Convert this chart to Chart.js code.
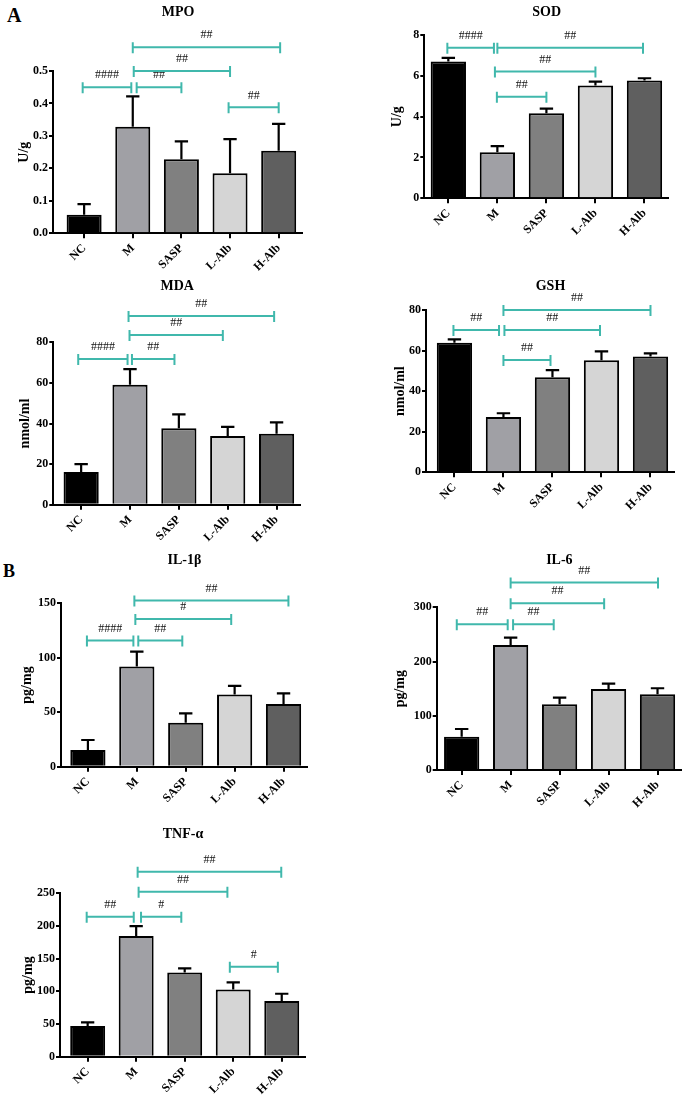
<!DOCTYPE html>
<html>
<head>
<meta charset="utf-8">
<script src="https://cdn.jsdelivr.net/npm/chart.js@4.4.1/dist/chart.umd.min.js"></script>
<style>
  html, body { margin: 0; padding: 0; background: #fff; }
  #page { position: relative; width: 684px; height: 1100px; overflow: hidden; }
  #page canvas { position: absolute; }
  .tag { position: absolute; font-family: "Liberation Serif", serif; font-weight: bold; color: #000; line-height: 1; }
</style>
</head>
<body>
<div id="page">
  <div class="tag" style="left:7px;top:5px;font-size:20px">A</div>
  <div class="tag" style="left:3px;top:562px;font-size:18px">B</div>
</div>
<script>
const SERIF = '"Liberation Serif", "Times New Roman", serif';
const groups = ['NC', 'M', 'SASP', 'L-Alb', 'H-Alb'];
const barColors = ['#000000', '#a0a0a5', '#808080', '#d5d5d5', '#5f5f5f'];
const sigColor = '#40b8ac';

// mean values, upper SD, and significance brackets [from, to, level, mark]
const mpoMean = [0.057, 0.328, 0.228, 0.185, 0.254];
const mpoSd = [0.033, 0.094, 0.055, 0.105, 0.083];
const mpoSig = [[-0.03, 0.97, 0.45, '####'], [1.08, 2, 0.45, '##'], [1.02, 3, 0.50, '##'], [1, 4.03, 0.573, '##'], [2.97, 4, 0.388, '##']];

const sodMean = [6.70, 2.25, 4.17, 5.52, 5.77];
const sodSd = [0.18, 0.31, 0.22, 0.20, 0.11];
const sodSig = [[-0.02, 0.93, 7.38, '####'], [1, 3.97, 7.38, '##'], [0.95, 3, 6.21, '##'], [0.99, 2, 4.98, '##']];

const mdaMean = [16.1, 59.1, 37.6, 33.8, 35.0];
const mdaSd = [3.9, 7.7, 6.9, 4.5, 5.6];
const mdaSig = [[-0.06, 0.95, 71.8, '####'], [1.04, 1.91, 71.8, '##'], [0.99, 2.9, 83.6, '##'], [0.97, 3.95, 93.0, '##']];

const gshMean = [63.8, 27.2, 46.8, 55.2, 57.1];
const gshSd = [1.7, 1.9, 3.6, 4.4, 1.5];
const gshSig = [[-0.02, 0.91, 70.1, '##'], [1.02, 2.97, 70.1, '##'], [1, 4, 80.0, '##'], [1, 1.96, 55.3, '##']];

const il1Mean = [15.3, 91.9, 40.4, 66.2, 57.6];
const il1Sd = [9.2, 13.8, 8.6, 8.0, 9.8];
const il1Sig = [[-0.02, 0.93, 115.8, '####'], [1.03, 1.93, 115.8, '##'], [0.97, 2.93, 135.5, '#'], [0.95, 4.1, 152.6, '##']];

const il6Mean = [61.4, 230.6, 121.2, 149.4, 139.7];
const il6Sd = [14.2, 13.4, 12.2, 9.8, 11.0];
const il6Sig = [[-0.1, 0.94, 268.8, '##'], [1.05, 1.88, 268.8, '##'], [1, 2.91, 307.6, '##'], [1, 4.01, 345.6, '##']];

const tnfMean = [47.0, 184.6, 129.0, 103.0, 85.2];
const tnfSd = [5.6, 15.2, 6.2, 10.7, 11.1];
const tnfSig = [[-0.02, 0.95, 214, '##'], [1.1, 1.93, 214, '#'], [1.05, 2.88, 252.3, '##'], [1.03, 3.99, 282.9, '##'], [2.93, 3.92, 137.6, '#']];

const panels = [
  { title: 'MPO', unit: 'U/g', mean: mpoMean, sd: mpoSd, sig: mpoSig, yMax: 0.5, yStep: 0.1, dec: 1, xMin: -0.64,
    box: { titleY: 12.5, unitX: 24, axisX: 53, top: 71, bottom: 233.3, right: 303 } },
  { title: 'SOD', unit: 'U/g', mean: sodMean, sd: sodSd, sig: sodSig, yMax: 8, yStep: 2, dec: 0, xMin: -0.49,
    box: { titleY: 12.5, unitX: 397, axisX: 424.3, top: 35, bottom: 198.3, right: 669 } },
  { title: 'MDA', unit: 'nmol/ml', mean: mdaMean, sd: mdaSd, sig: mdaSig, yMax: 80, yStep: 20, dec: 0, xMin: -0.57,
    box: { titleY: 286, unitX: 25, axisX: 53.3, top: 342.3, bottom: 504.7, right: 301 } },
  { title: 'GSH', unit: 'nmol/ml', mean: gshMean, sd: gshSd, sig: gshSig, yMax: 80, yStep: 20, dec: 0, xMin: -0.58,
    box: { titleY: 286, unitX: 400, axisX: 426, top: 310, bottom: 472.3, right: 675 } },
  { title: 'IL-1β', unit: 'pg/mg', mean: il1Mean, sd: il1Sd, sig: il1Sig, yMax: 150, yStep: 50, dec: 0, xMin: -0.55,
    box: { titleY: 560, unitX: 27, axisX: 61, top: 603.3, bottom: 766.7, right: 308 } },
  { title: 'IL-6', unit: 'pg/mg', mean: il6Mean, sd: il6Sd, sig: il6Sig, yMax: 300, yStep: 100, dec: 0, xMin: -0.51,
    box: { titleY: 560, unitX: 400, axisX: 436.7, top: 607.3, bottom: 770, right: 682 } },
  { title: 'TNF-α', unit: 'pg/mg', mean: tnfMean, sd: tnfSd, sig: tnfSig, yMax: 250, yStep: 50, dec: 0, xMin: -0.57,
    box: { titleY: 834, unitX: 28, axisX: 60, top: 893.3, bottom: 1056.7, right: 306 } }
];

// whiskers (upper SD only) on top of each bar
const errorBars = {
  id: 'errorBars',
  afterDatasetsDraw(chart) {
    const ctx = chart.ctx, y = chart.scales.y;
    chart.data.datasets.forEach((ds, di) => {
      chart.getDatasetMeta(di).data.forEach((bar, i) => {
        const top = y.getPixelForValue(ds.data[i].y + ds.errors[i]);
        const cap = bar.width * 0.19;
        ctx.save();
        ctx.strokeStyle = '#000';
        ctx.lineWidth = 2.2;
        ctx.beginPath();
        ctx.moveTo(bar.x, bar.y);
        ctx.lineTo(bar.x, top);
        ctx.moveTo(bar.x - cap, top);
        ctx.lineTo(bar.x + cap, top);
        ctx.stroke();
        ctx.restore();
      });
    });
  }
};

// teal comparison brackets with # marks
const sigBrackets = {
  id: 'sigBrackets',
  afterDraw(chart, args, opts) {
    const { ctx, scales: { x, y } } = chart;
    ctx.save();
    ctx.strokeStyle = sigColor;
    ctx.lineWidth = 2;
    ctx.fillStyle = '#111';
    ctx.font = '12px ' + SERIF;
    ctx.textAlign = 'center';
    ctx.textBaseline = 'middle';
    (opts.items || []).forEach(([from, to, level, mark]) => {
      const x1 = x.getPixelForValue(from), x2 = x.getPixelForValue(to), yy = y.getPixelForValue(level);
      ctx.beginPath();
      ctx.moveTo(x1, yy); ctx.lineTo(x2, yy);
      ctx.moveTo(x1, yy - 5); ctx.lineTo(x1, yy + 6);
      ctx.moveTo(x2, yy - 5); ctx.lineTo(x2, yy + 6);
      ctx.stroke();
      ctx.fillText(mark, (x1 + x2) / 2, yy - 12);
    });
    ctx.restore();
  }
};

const page = document.getElementById('page');
const TITLE_SIZE = 14, UNIT_SIZE = 14, XAXIS_H = 42;

panels.forEach(p => {
  const b = p.box;
  const half = TITLE_SIZE * 1.2 / 2;
  const left = Math.round(b.unitX - UNIT_SIZE * 1.2 / 2);
  const top = Math.round(b.titleY - half - 2);
  const width = Math.round(b.right - left);
  const height = Math.round(b.bottom + XAXIS_H - top);

  const canvas = document.createElement('canvas');
  canvas.width = width;
  canvas.height = height;
  canvas.style.left = left + 'px';
  canvas.style.top = top + 'px';
  canvas.style.width = width + 'px';
  canvas.style.height = height + 'px';
  page.appendChild(canvas);

  const yAxisW = b.axisX - left;
  const xAxisH = top + height - b.bottom;
  const axisLine = { display: true, color: '#000', width: 2 };
  const tickFont = { family: SERIF, size: 12, weight: 'bold' };

  new Chart(canvas, {
    type: 'bar',
    data: {
      datasets: [{
        data: p.mean.map((v, i) => ({ x: i, y: v })),
        errors: p.sd,
        backgroundColor: barColors,
        borderColor: '#000',
        borderWidth: 2
      }]
    },
    options: {
      responsive: false,
      animation: false,
      events: [],
      layout: { padding: 0 },
      plugins: {
        legend: { display: false },
        tooltip: { enabled: false },
        title: {
          display: true,
          text: p.title,
          fullSize: false,
          color: '#000',
          font: { family: SERIF, size: TITLE_SIZE, weight: 'bold' },
          padding: { top: b.titleY - half - top, bottom: b.top - (b.titleY + half) }
        },
        sigBrackets: { items: p.sig }
      },
      scales: {
        x: {
          type: 'linear',
          offset: false,
          min: p.xMin,
          max: 4.5,
          afterBuildTicks: s => { s.ticks = groups.map((g, i) => ({ value: i })); },
          afterFit: s => { s.height = xAxisH; },
          ticks: {
            callback: v => groups[v],
            autoSkip: false,
            minRotation: 45,
            maxRotation: 45,
            padding: 3,
            color: '#000',
            font: tickFont
          },
          grid: { offset: false, drawOnChartArea: false, drawTicks: true, tickLength: 5, color: '#000', lineWidth: 2 },
          border: axisLine
        },
        y: {
          min: 0,
          max: p.yMax,
          afterFit: s => { s.width = yAxisW; },
          ticks: {
            stepSize: p.yStep,
            callback: v => Number(v).toFixed(p.dec),
            padding: 1,
            color: '#000',
            font: tickFont
          },
          title: {
            display: true,
            text: p.unit,
            color: '#000',
            padding: { top: 0, bottom: 0 },
            font: { family: SERIF, size: UNIT_SIZE, weight: 'bold' }
          },
          grid: { drawOnChartArea: false, drawTicks: true, tickLength: 4, color: '#000', lineWidth: 2 },
          border: axisLine
        }
      }
    },
    plugins: [errorBars, sigBrackets]
  });
});
</script>
</body>
</html>
